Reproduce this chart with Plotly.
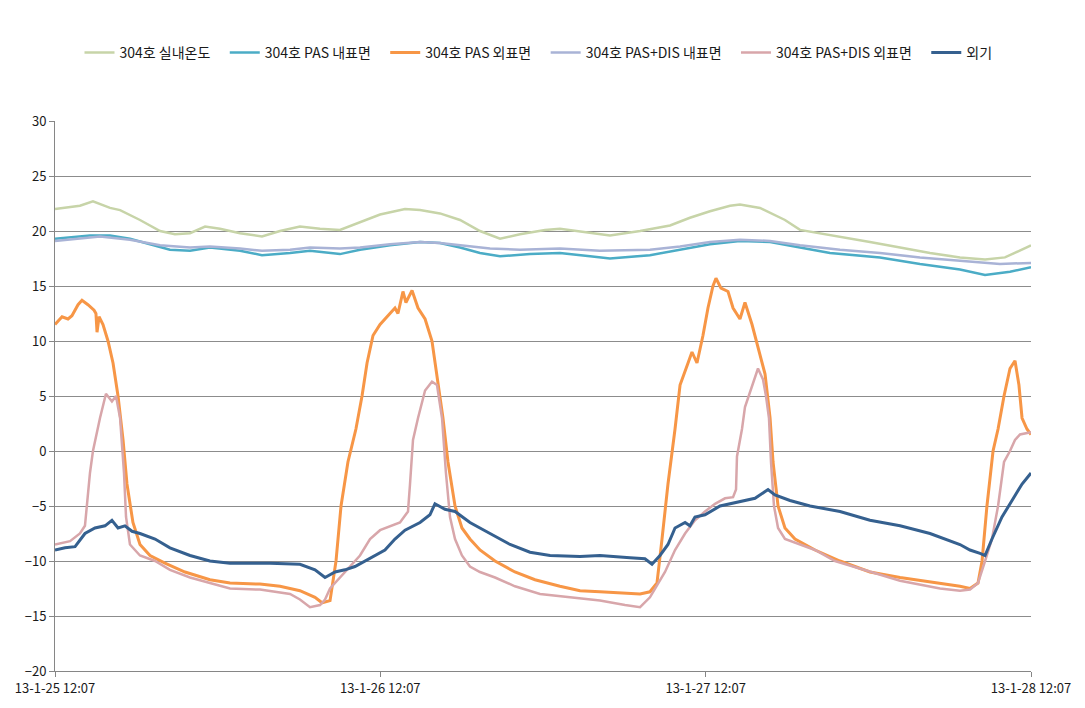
import pandas as pd
import plotly.graph_objects as go

START = "2013-01-25 12:07"
tick_hours = [0, 24, 48, 72]
tick_labels = ["13-1-25 12:07", "13-1-26 12:07", "13-1-27 12:07", "13-1-28 12:07"]

indoor_h = [0, 1.84, 2.80, 4.06, 4.80, 6.27, 7.75, 8.85, 9.96, 11.07, 12.17, 13.65, 15.27, 16.60, 18.07, 19.55, 21.02, 22.50, 23.98, 25.82, 26.93, 28.40, 29.88, 31.35, 32.83, 34.30, 36.15, 37.25, 39.47, 40.94, 43.16, 45.37, 46.84, 48.32, 49.80, 50.53, 52.01, 53.85, 54.96, 57.17, 60.12, 62.34, 64.55, 66.76, 68.61, 70.08, 71.19, 72.0]
indoor_v = [22.0, 22.3, 22.7, 22.1, 21.9, 21.0, 20.0, 19.7, 19.8, 20.4, 20.2, 19.8, 19.5, 20.0, 20.4, 20.2, 20.1, 20.8, 21.5, 22.0, 21.9, 21.6, 21.0, 20.0, 19.3, 19.7, 20.1, 20.2, 19.8, 19.6, 20.0, 20.5, 21.2, 21.8, 22.3, 22.4, 22.1, 21.0, 20.1, 19.6, 19.0, 18.5, 18.0, 17.6, 17.4, 17.6, 18.2, 18.7]

pas_in_h = [0, 2.58, 4.06, 5.53, 7.01, 8.48, 9.96, 11.43, 13.65, 15.27, 17.34, 18.81, 21.02, 22.50, 24.71, 26.93, 28.40, 29.88, 31.35, 32.83, 35.04, 37.25, 39.47, 40.94, 43.89, 46.11, 48.32, 50.53, 52.75, 54.96, 57.17, 60.86, 63.81, 66.76, 68.61, 70.45, 72.0]
pas_in_v = [19.3, 19.6, 19.6, 19.3, 18.8, 18.3, 18.2, 18.5, 18.2, 17.8, 18.0, 18.2, 17.9, 18.3, 18.7, 19.0, 18.9, 18.5, 18.0, 17.7, 17.9, 18.0, 17.7, 17.5, 17.8, 18.3, 18.8, 19.1, 19.0, 18.5, 18.0, 17.6, 17.0, 16.5, 16.0, 16.3, 16.7]

pas_out_h = [0, 0.52, 0.96, 1.25, 1.70, 1.99, 2.43, 2.88, 3.02, 3.10, 3.25, 3.54, 3.91, 4.28, 4.65, 5.02, 5.31, 5.75, 6.27, 7.01, 8.11, 9.59, 11.43, 12.91, 15.12, 16.60, 18.07, 19.18, 19.70, 20.29, 20.73, 21.10, 21.61, 22.20, 22.65, 23.02, 23.46, 23.98, 24.71, 25.08, 25.30, 25.67, 25.89, 26.34, 26.78, 27.30, 27.81, 28.18, 28.62, 28.99, 29.51, 30.02, 30.61, 31.35, 32.46, 33.93, 35.41, 37.25, 38.73, 40.20, 42.05, 43.16, 43.89, 44.41, 44.78, 45.22, 45.74, 46.11, 46.70, 46.99, 47.36, 47.80, 48.17, 48.54, 48.76, 49.13, 49.65, 50.02, 50.53, 50.90, 51.42, 51.86, 52.38, 52.75, 52.97, 53.34, 53.85, 54.59, 56.07, 57.91, 60.12, 62.34, 65.29, 66.76, 67.50, 68.09, 68.39, 68.75, 69.20, 69.57, 70.01, 70.45, 70.82, 71.11, 71.34, 71.70, 72.0]
pas_out_v = [11.5, 12.2, 12.0, 12.3, 13.3, 13.7, 13.3, 12.8, 12.5, 10.8, 12.2, 11.5, 10.0, 8.0, 5.0, 1.0, -3.0, -6.5, -8.5, -9.5, -10.2, -11.0, -11.7, -12.0, -12.1, -12.3, -12.7, -13.3, -13.8, -13.6, -10.0, -5.0, -1.0, 2.0, 5.0, 8.0, 10.5, 11.5, 12.5, 13.0, 12.5, 14.5, 13.5, 14.6, 13.0, 12.0, 10.0, 7.0, 3.0, -1.0, -5.0, -7.0, -8.0, -9.0, -10.0, -11.0, -11.7, -12.3, -12.7, -12.8, -12.9, -13.0, -12.8, -12.0, -8.0, -3.0, 2.0, 6.0, 8.0, 9.0, 8.0, 10.5, 13.0, 15.0, 15.7, 14.8, 14.5, 13.0, 12.0, 13.5, 11.5, 9.5, 7.0, 3.0, -1.0, -5.0, -7.0, -8.0, -9.0, -10.0, -11.0, -11.5, -12.0, -12.3, -12.5, -12.0, -10.0, -5.0, 0.0, 2.0, 5.0, 7.5, 8.2, 6.0, 3.0, 2.0, 1.5]

dis_in_h = [0, 3.32, 5.53, 7.75, 9.96, 11.43, 13.65, 15.27, 17.34, 18.81, 21.02, 22.50, 24.71, 26.93, 28.40, 29.88, 32.09, 34.30, 37.25, 40.20, 43.89, 46.11, 48.32, 50.53, 52.75, 54.96, 57.91, 60.86, 63.81, 66.76, 69.71, 72.0]
dis_in_v = [19.1, 19.5, 19.2, 18.7, 18.5, 18.6, 18.4, 18.2, 18.3, 18.5, 18.4, 18.5, 18.8, 19.0, 18.9, 18.7, 18.4, 18.3, 18.4, 18.2, 18.3, 18.6, 19.0, 19.2, 19.1, 18.7, 18.3, 18.0, 17.6, 17.3, 17.0, 17.1]

dis_out_h = [0, 1.11, 1.84, 2.21, 2.58, 2.80, 3.32, 3.76, 4.20, 4.50, 4.80, 5.09, 5.24, 5.53, 6.27, 7.38, 8.48, 9.96, 11.43, 12.91, 15.12, 17.34, 18.07, 18.81, 19.55, 19.92, 20.29, 21.02, 21.76, 22.50, 23.24, 23.98, 25.45, 26.04, 26.19, 26.41, 26.78, 27.30, 27.81, 28.18, 28.55, 28.84, 29.14, 29.51, 30.02, 30.61, 31.35, 32.46, 33.93, 35.78, 37.99, 40.20, 42.05, 43.16, 43.89, 44.26, 45.00, 45.74, 46.48, 47.21, 47.95, 48.69, 49.43, 50.02, 50.24, 50.31, 50.68, 50.90, 51.42, 51.86, 52.23, 52.45, 52.67, 52.82, 53.04, 53.34, 53.85, 54.96, 56.07, 57.54, 60.12, 62.34, 65.29, 66.76, 67.50, 68.09, 68.61, 69.12, 69.57, 70.01, 70.45, 70.82, 71.19, 72.0]
dis_out_v = [-8.5, -8.2, -7.5, -6.8, -2.0, 0.0, 3.0, 5.2, 4.5, 5.0, 3.0, -2.0, -6.0, -8.5, -9.5, -10.0, -10.8, -11.5, -12.0, -12.5, -12.6, -13.0, -13.5, -14.2, -14.0, -13.5, -12.5, -11.5, -10.5, -9.5, -8.0, -7.2, -6.5, -5.5, -3.0, 1.0, 3.0, 5.5, 6.3, 6.0, 3.0, -2.0, -6.0, -8.0, -9.5, -10.5, -11.0, -11.5, -12.3, -13.0, -13.3, -13.6, -14.0, -14.2, -13.3, -12.5, -11.0, -9.0, -7.5, -6.3, -5.5, -4.8, -4.3, -4.2, -3.5, -0.5, 2.0, 4.0, 6.0, 7.5, 6.5, 5.0, 3.0, -1.0, -5.0, -7.0, -8.0, -8.5, -9.0, -10.0, -11.0, -11.8, -12.5, -12.7, -12.6, -12.0, -10.0, -8.0, -5.0, -1.0, 0.0, 1.0, 1.5, 1.7]

out_h = [0, 0.74, 1.48, 2.21, 2.95, 3.69, 4.20, 4.65, 5.16, 5.68, 6.27, 7.38, 8.48, 9.96, 11.43, 12.91, 15.86, 18.07, 19.18, 19.92, 20.66, 21.39, 22.13, 22.87, 23.61, 24.34, 25.08, 25.82, 26.93, 27.66, 28.03, 28.77, 29.51, 30.61, 32.09, 33.57, 35.04, 36.52, 38.73, 40.20, 42.42, 43.52, 44.04, 44.63, 45.22, 45.74, 46.48, 46.84, 47.21, 47.95, 49.06, 50.16, 51.64, 52.60, 53.11, 54.22, 55.70, 57.91, 60.12, 62.34, 64.55, 66.76, 67.50, 68.24, 68.61, 69.12, 69.86, 70.60, 71.34, 72.0]
out_v = [-9.0, -8.8, -8.7, -7.5, -7.0, -6.8, -6.3, -7.0, -6.8, -7.3, -7.5, -8.0, -8.8, -9.5, -10.0, -10.2, -10.2, -10.3, -10.8, -11.5, -11.0, -10.8, -10.5, -10.0, -9.5, -9.0, -8.0, -7.2, -6.5, -5.8, -4.8, -5.3, -5.5, -6.5, -7.5, -8.5, -9.2, -9.5, -9.6, -9.5, -9.7, -9.8, -10.3, -9.5, -8.5, -7.0, -6.5, -6.8, -6.0, -5.8, -5.0, -4.7, -4.3, -3.5, -4.0, -4.5, -5.0, -5.5, -6.3, -6.8, -7.5, -8.5, -9.0, -9.3, -9.5, -8.0, -6.0, -4.5, -3.0, -2.0]

series = [
    ("304호 실내온도", indoor_h, indoor_v, "#C7D4A8", 2.5),
    ("304호 PAS 내표면", pas_in_h, pas_in_v, "#4BACC6", 2.5),
    ("304호 PAS 외표면", pas_out_h, pas_out_v, "#F79646", 3),
    ("304호 PAS+DIS 내표면", dis_in_h, dis_in_v, "#A9B3D6", 2.5),
    ("304호 PAS+DIS 외표면", dis_out_h, dis_out_v, "#D8A6AA", 2.5),
    ("외기", out_h, out_v, "#35608F", 3),
]

start = pd.Timestamp(START)


def to_time(hours):
    return start + pd.to_timedelta(hours, unit="h")


fig = go.Figure()
for name, hh, vv, color, width in series:
    fig.add_trace(go.Scatter(
        x=to_time(hh), y=vv, name=name + "   ", mode="lines",
        line=dict(color=color, width=width),
    ))

font_family = "Noto Sans CJK KR, Noto Sans, sans-serif"
fig.update_layout(
    width=1085, height=708,
    margin=dict(l=55, r=54, t=121, b=37, autoexpand=False),
    paper_bgcolor="white", plot_bgcolor="white",
    font=dict(family=font_family, size=13, color="#1a1a1a"),
    showlegend=True,
    legend=dict(orientation="h", x=0.5, xanchor="center",
                y=1.124, yanchor="middle",
                font=dict(size=14, color="#1a1a1a"), tracegroupgap=0,
                itemwidth=30),
    xaxis=dict(
        type="date",
        range=[to_time(0), to_time(72)],
        tickvals=list(to_time(tick_hours)),
        ticktext=tick_labels,
        showgrid=False, showline=True, linecolor="#868686", linewidth=1,
        ticks="outside", ticklen=5, tickcolor="#868686",
        zeroline=False,
    ),
    yaxis=dict(
        range=[-20, 30], dtick=5, tick0=-20,
        showgrid=True, gridcolor="#8C8C8C", gridwidth=1,
        showline=True, linecolor="#868686", linewidth=1,
        ticks="outside", ticklen=5, tickcolor="#868686",
        zeroline=False,
    ),
)

fig.write_html("out.html")
